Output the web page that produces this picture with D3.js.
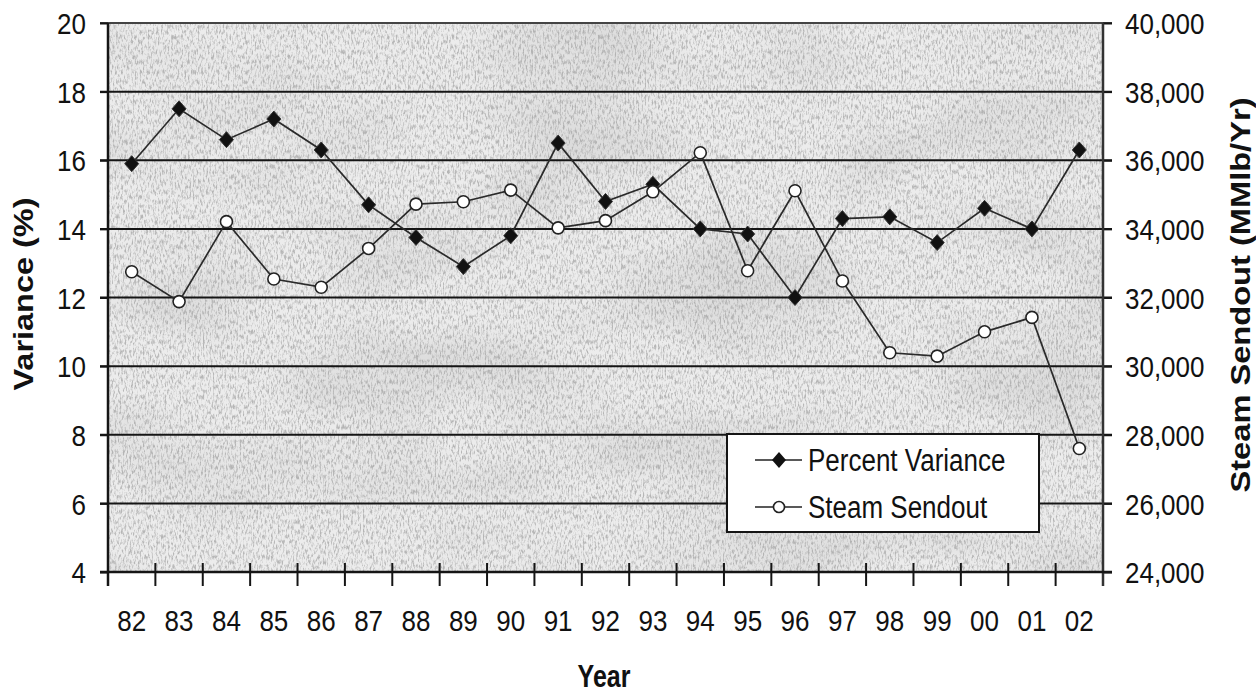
<!DOCTYPE html>
<html>
<head>
<meta charset="utf-8">
<script src="https://cdn.jsdelivr.net/npm/d3@7"></script>
<style>
  html, body { margin: 0; padding: 0; background: #fff; }
  svg { display: block; }
  text { font-family: "Liberation Sans", Arial, sans-serif; fill: #111; }
</style>
</head>
<body>
<svg id="chart" width="1256" height="694"></svg>
<script>
// Category labels (two-digit years)
const years = ["82","83","84","85","86","87","88","89","90","91","92","93","94","95","96","97","98","99","00","01","02"];

// Percent variance per year (left axis, %)
const percentVariance = [15.9, 17.5, 16.6, 17.2, 16.3, 14.7, 13.75, 12.9, 13.8, 16.5, 14.8, 15.3, 14.0, 13.85, 12.0, 14.3, 14.35, 13.6, 14.6, 14.0, 16.3];

// Steam sendout per year (right axis, MMlb/Yr)
const steamSendout = [32750, 31880, 34210, 32540, 32300, 33430, 34720, 34790, 35130, 34030, 34240, 35080, 36220, 32780, 35110, 32480, 30390, 30290, 31000, 31420, 27600];

// Axis tick values
const leftTicks = [4, 6, 8, 10, 12, 14, 16, 18, 20];
const rightTicks = [24000, 26000, 28000, 30000, 32000, 34000, 36000, 38000, 40000];

const seriesNames = ["Percent Variance", "Steam Sendout"];

const svg = d3.select("#chart");
const plot = { left: 108, right: 1103, top: 23, bottom: 572 };

const x = d3.scaleBand().domain(years).range([plot.left, plot.right]).padding(0);
const yL = d3.scaleLinear().domain([4, 20]).range([plot.bottom, plot.top]);
const yR = d3.scaleLinear().domain([24000, 40000]).range([plot.bottom, plot.top]);
const cx = d => x(d) + x.bandwidth() / 2;

// ---- textured plot background ----
const defs = svg.append("defs");
const grain = defs.append("filter").attr("id", "grain")
  .attr("filterUnits", "userSpaceOnUse")
  .attr("x", plot.left).attr("y", plot.top)
  .attr("width", plot.right - plot.left).attr("height", plot.bottom - plot.top);
grain.append("feTurbulence").attr("type", "fractalNoise")
  .attr("baseFrequency", "0.6 0.2").attr("numOctaves", 3).attr("seed", 11).attr("result", "n");
grain.append("feColorMatrix").attr("type", "matrix")
  .attr("values", "0 0 0 0 0.35  0 0 0 0 0.35  0 0 0 0 0.35  3.2 0 0 0 -1.45");

const blotch = defs.append("filter").attr("id", "blotch")
  .attr("filterUnits", "userSpaceOnUse")
  .attr("x", plot.left).attr("y", plot.top)
  .attr("width", plot.right - plot.left).attr("height", plot.bottom - plot.top);
blotch.append("feTurbulence").attr("type", "fractalNoise")
  .attr("baseFrequency", "0.006 0.012").attr("numOctaves", 2).attr("seed", 4);
blotch.append("feColorMatrix").attr("type", "matrix")
  .attr("values", "0 0 0 0 0.5  0 0 0 0 0.5  0 0 0 0 0.5  1.8 0 0 0 -0.75");

svg.append("rect")
  .attr("x", plot.left).attr("y", plot.top)
  .attr("width", plot.right - plot.left).attr("height", plot.bottom - plot.top)
  .attr("fill", "#ececec");
svg.append("rect")
  .attr("x", plot.left).attr("y", plot.top)
  .attr("width", plot.right - plot.left).attr("height", plot.bottom - plot.top)
  .attr("filter", "url(#blotch)").attr("opacity", 0.45);
svg.append("rect")
  .attr("x", plot.left).attr("y", plot.top)
  .attr("width", plot.right - plot.left).attr("height", plot.bottom - plot.top)
  .attr("filter", "url(#grain)").attr("opacity", 0.7);

// ---- horizontal gridlines ----
svg.append("g").selectAll("line").data(leftTicks).join("line")
  .attr("x1", plot.left - 8).attr("x2", plot.right + 9)
  .attr("y1", d => yL(d)).attr("y2", d => yL(d))
  .attr("stroke", d => d === 20 ? "#444" : "#151515")
  .attr("stroke-width", 2);

// ---- left axis ----
const gL = svg.append("g").attr("transform", `translate(${plot.left},0)`)
  .call(d3.axisLeft(yL).tickValues(leftTicks).tickSize(8).tickPadding(14).tickFormat(d3.format("d")));
gL.select(".domain").remove();
gL.selectAll(".tick line").attr("stroke", "#151515").attr("stroke-width", 2);
gL.selectAll(".tick text")
  .attr("x", null).attr("dy", null)
  .attr("transform", "translate(-22,10.7) scale(1,1.15)")
  .style("font-size", "26px").attr("fill", "#111");

// ---- right axis ----
const gR = svg.append("g").attr("transform", `translate(${plot.right},0)`)
  .call(d3.axisRight(yR).tickValues(rightTicks).tickSize(9).tickPadding(13).tickFormat(d3.format(",")));
gR.select(".domain").remove();
gR.selectAll(".tick line").attr("stroke", "#151515").attr("stroke-width", 2);
gR.selectAll(".tick text")
  .attr("x", null).attr("dy", null)
  .attr("transform", "translate(22,10.7) scale(1,1.15)")
  .style("font-size", "26px").attr("fill", "#111");

// ---- vertical frame lines ----
svg.append("line").attr("x1", plot.left).attr("x2", plot.left)
  .attr("y1", plot.top).attr("y2", plot.bottom + 14)
  .attr("stroke", "#151515").attr("stroke-width", 2.5);
svg.append("line").attr("x1", plot.right).attr("x2", plot.right)
  .attr("y1", plot.top).attr("y2", plot.bottom + 14)
  .attr("stroke", "#333").attr("stroke-width", 2.5);

// ---- bottom axis: labels centred in bands, ticks at band edges ----
const gB = svg.append("g").attr("transform", `translate(0,${plot.bottom})`)
  .call(d3.axisBottom(x).tickSize(0).tickPadding(0));
gB.select(".domain").remove();
gB.selectAll(".tick text")
  .attr("y", null).attr("dy", null)
  .attr("transform", "translate(0,59) scale(1,1.15)")
  .style("font-size", "26px").attr("fill", "#111");
svg.append("line").attr("x1", plot.left - 8).attr("x2", plot.right + 9)
  .attr("y1", plot.bottom).attr("y2", plot.bottom)
  .attr("stroke", "#151515").attr("stroke-width", 2.5);
svg.append("g").selectAll("line").data(years.slice(1)).join("line")
  .attr("x1", d => x(d)).attr("x2", d => x(d))
  .attr("y1", plot.bottom - 9).attr("y2", plot.bottom + 14)
  .attr("stroke", "#151515").attr("stroke-width", 2);

// ---- series ----
const diamondPath = (px, py) => `M${px},${py - 8}L${px + 7},${py}L${px},${py + 8}L${px - 7},${py}Z`;

const sendoutLine = d3.line().x((d, i) => cx(years[i])).y(d => yR(d));
svg.append("path").datum(steamSendout)
  .attr("d", sendoutLine).attr("fill", "none")
  .attr("stroke", "#2a2a2a").attr("stroke-width", 1.7);

const varianceLine = d3.line().x((d, i) => cx(years[i])).y(d => yL(d));
svg.append("path").datum(percentVariance)
  .attr("d", varianceLine).attr("fill", "none")
  .attr("stroke", "#2a2a2a").attr("stroke-width", 1.7);

svg.append("g").selectAll("path").data(percentVariance).join("path")
  .attr("d", (d, i) => diamondPath(cx(years[i]), yL(d)))
  .attr("fill", "#111").attr("stroke", "#333").attr("stroke-width", 1);

svg.append("g").selectAll("circle").data(steamSendout).join("circle")
  .attr("cx", (d, i) => cx(years[i])).attr("cy", d => yR(d)).attr("r", 6)
  .attr("fill", "#fff").attr("stroke", "#222").attr("stroke-width", 1.6);

// ---- legend ----
const lg = svg.append("g");
lg.append("rect").attr("x", 727).attr("y", 434).attr("width", 312).attr("height", 98)
  .attr("fill", "#fff").attr("stroke", "#151515").attr("stroke-width", 2);
const rows = [460, 507];
seriesNames.forEach((name, i) => {
  const ry = rows[i];
  lg.append("line").attr("x1", 755).attr("x2", 802).attr("y1", ry).attr("y2", ry)
    .attr("stroke", "#222").attr("stroke-width", 1.6);
  if (i === 0) {
    lg.append("path").attr("d", diamondPath(779, ry)).attr("fill", "#111");
  } else {
    lg.append("circle").attr("cx", 779).attr("cy", ry).attr("r", 5.5)
      .attr("fill", "#fff").attr("stroke", "#222").attr("stroke-width", 1.6);
  }
  lg.append("text").attr("transform", `translate(808,${ry + 10.5}) scale(1,1.2)`)
    .style("font-size", "26px").text(name);
});

// ---- axis titles ----
svg.append("text")
  .attr("transform", "translate(33,294) rotate(-90)")
  .attr("text-anchor", "middle").style("font-size", "28px").style("font-weight", "bold")
  .attr("textLength", 193).attr("lengthAdjust", "spacingAndGlyphs")
  .text("Variance (%)");

svg.append("text")
  .attr("transform", "translate(1250,295) rotate(-90)")
  .attr("text-anchor", "middle").style("font-size", "28px").style("font-weight", "bold")
  .attr("textLength", 395).attr("lengthAdjust", "spacingAndGlyphs")
  .text("Steam Sendout (MMlb/Yr)");

svg.append("text")
  .attr("transform", "translate(604,687) scale(1,1.22)")
  .attr("text-anchor", "middle").style("font-size", "25px").style("font-weight", "bold")
  .text("Year");
</script>
</body>
</html>
